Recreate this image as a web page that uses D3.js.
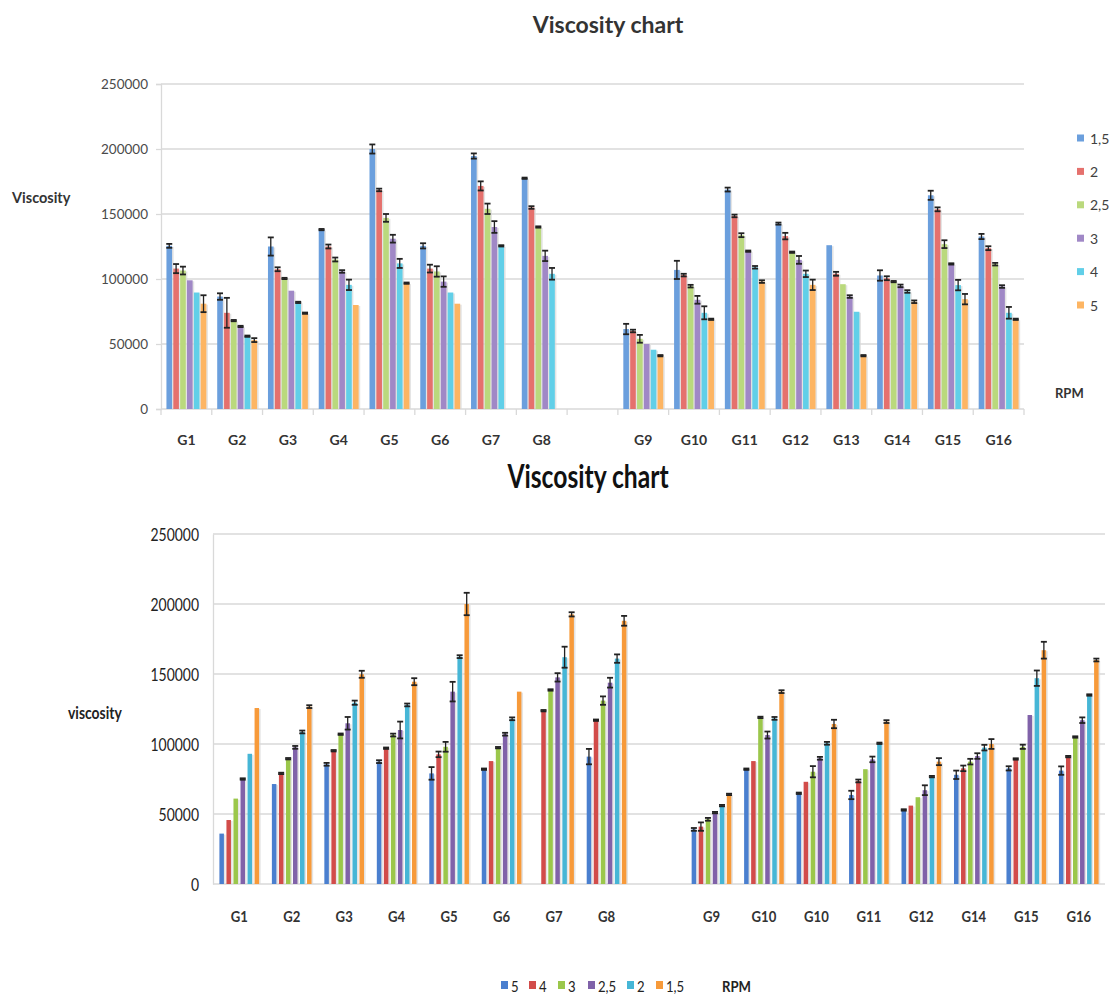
<!DOCTYPE html>
<html>
<head>
<meta charset="utf-8">
<script src="https://cdn.jsdelivr.net/npm/d3@7"></script>
<style>
  html, body { margin: 0; padding: 0; background: #fff; }
  svg { display: block; font-family: Lato, "Open Sans", sans-serif; }
</style>
</head>
<body>
<svg id="chart" width="1113" height="997"></svg>
<script>
// ---------- Upper chart: viscosity per sample, series by RPM (1,5 → 5) ----------
const topCategories = ["G1","G2","G3","G4","G5","G6","G7","G8","","G9","G10","G11","G12","G13","G14","G15","G16"];
const topSeriesNames = ["1,5","2","2,5","3","4","5"];
const top15 = [125500, 86500, 125000, 138000, 200000, 125500, 194600, 177500, null, 61500, 107000, 168800, 142600, 126000, 102700, 164400, 132700];
const top2  = [108000, 74000, 107500, 125000, 168500, 108000, 171600, 155000, null, 60000, 103000, 148500, 133000, 104000, 100600, 153600, 123700];
const top25 = [106500, 68000, 100400, 115000, 147000, 105800, 154000, 140000, null, 54000, 94500, 133700, 120600, 96000, 98000, 126800, 111400];
const top3  = [99000, 63500, 91000, 105800, 131000, 98000, 140000, 117800, null, 50000, 84000, 121400, 114700, 86500, 94700, 111600, 94200];
const top4  = [89600, 56000, 82000, 95500, 112000, 89600, 125500, 104000, null, 45600, 74000, 109000, 104000, 74800, 90400, 95300, 74000];
const top5  = [81000, 53000, 73700, 80000, 96800, 81000, null, null, null, 41000, 69000, 98000, 95500, 41000, 82500, 84500, 69000];
// standard deviations (half-length of each error bar)
const topErr15 = [1500, 2500, 7000, 500, 3500, 2000, 2000, 500, null, 4000, 7000, 1500, 800, 0, 4000, 3500, 2000];
const topErr2  = [3500, 11500, 1500, 1500, 1000, 3000, 3500, 1000, null, 1000, 1000, 1000, 2500, 1500, 1500, 1500, 1500];
const topErr25 = [3000, 500, 500, 1500, 3000, 4000, 4000, 500, null, 3000, 1000, 1500, 500, 0, 500, 3000, 1000];
const topErr3  = [0, 500, 0, 1000, 3000, 4000, 4500, 4000, null, 0, 3000, 500, 3000, 1000, 1000, 500, 1000];
const topErr4  = [0, 500, 500, 4000, 3500, 0, 500, 4500, null, 0, 5000, 1000, 2500, 0, 1000, 4000, 4500];
const topErr5  = [6500, 1500, 500, 0, 500, 0, null, null, null, 500, 500, 1000, 4000, 500, 1000, 4000, 500];
const topTicks = [0, 50000, 100000, 150000, 200000, 250000];

// ---------- Lower chart: same samples, series by RPM (5 → 1,5) ----------
const botCategories = ["G1","G2","G3","G4","G5","G6","G7","G8","","G9","G10","G10","G11","G12","G14","G15","G16"];
const botSeriesNames = ["5","4","3","2,5","2","1,5"];
const bot5  = [36000, 71400, 85500, 87400, 79000, 82000, null, 91000, null, 39000, 82000, 64800, 63600, 52900, 78000, 82600, 81000];
const bot4  = [45700, 79000, 95200, 97000, 92600, 87800, 123800, 117000, null, 41000, 87800, 73000, 73600, 56000, 82600, 89300, 91000];
const bot3  = [61000, 89500, 107000, 106400, 98000, 97400, 138600, 131000, null, 46200, 119000, 80200, 82000, 62000, 87400, 98000, 105000];
const bot25 = [75000, 97600, 114800, 110000, 137400, 107000, 147600, 143800, null, 51000, 106400, 89800, 89000, 67000, 91400, 120700, 117000];
const bot2  = [93000, 108600, 129500, 127900, 162400, 118000, 162000, 161000, null, 56000, 118300, 100500, 100500, 76700, 97400, 147000, 135000];
const bot15 = [125700, 126700, 149800, 144500, 200000, 137400, 192600, 188000, null, 64000, 137400, 114300, 116000, 87400, 100000, 167000, 160000];
const botErr5  = [0, 0, 1000, 1000, 4500, 500, null, 5500, null, 1000, 500, 500, 3000, 500, 3000, 1500, 3000];
const botErr4  = [0, 500, 500, 500, 2000, 0, 500, 500, null, 3000, 0, 0, 1000, 0, 2000, 500, 500];
const botErr3  = [0, 500, 500, 1000, 3500, 500, 500, 3000, null, 1000, 500, 4000, 0, 0, 2000, 1500, 500];
const botErr25 = [500, 1000, 4500, 6000, 7000, 1000, 3000, 3500, null, 500, 2500, 1000, 2000, 3500, 2000, 0, 2000];
const botErr2  = [0, 1000, 1500, 1000, 1000, 1000, 7500, 3000, null, 500, 1000, 1000, 500, 500, 2000, 5500, 500];
const botErr15 = [0, 1000, 2500, 2500, 8000, 0, 1500, 3500, null, 500, 1000, 3000, 1000, 2500, 3500, 6000, 1000];
const botTicks = [0, 50000, 100000, 150000, 200000, 250000];

const topColors = ["#6b9fdd", "#e5716d", "#bad97d", "#a088c6", "#61cfe8", "#fdb563"];
const botColors = ["#4a7fcf", "#d24c4a", "#9bc74b", "#8062a9", "#46b6d6", "#f79a3a"];

const svg = d3.select("#chart");

// text helper with optional horizontal squeeze (condensed look)
function label(g, x, y, txt, opts) {
  const o = Object.assign({ size: 13, weight: "normal", anchor: "start", fill: "#404040", sx: 1 }, opts || {});
  return g.append("text")
    .attr("transform", `translate(${x},${y}) scale(${o.sx},1)`)
    .attr("text-anchor", o.anchor)
    .attr("dominant-baseline", "central")
    .style("font-size", o.size + "px")
    .style("font-weight", o.weight)
    .attr("fill", o.fill)
    .text(txt);
}

function drawChart(cfg) {
  const g = svg.append("g");
  const x = d3.scaleBand().domain(d3.range(cfg.categories.length)).range([cfg.left, cfg.right]);
  const y = d3.scaleLinear().domain([0, 250000]).range([cfg.bottom, cfg.top]);

  // horizontal gridlines
  g.append("g").selectAll("line").data(cfg.ticks.filter(t => t > 0)).join("line")
    .attr("x1", cfg.left).attr("x2", cfg.gridRight)
    .attr("y1", d => y(d)).attr("y2", d => y(d))
    .attr("stroke", "#d9d9d9").attr("stroke-width", 1.3);

  // y axis
  const yAxis = d3.axisLeft(y).tickValues(cfg.ticks).tickSize(cfg.yTickSize).tickFormat(d3.format("d"));
  const ya = g.append("g").attr("transform", `translate(${cfg.left},0)`).call(yAxis);
  ya.select(".domain").attr("stroke", "#d9d9d9").attr("stroke-width", 1.3);
  ya.selectAll(".tick line").attr("stroke", "#d9d9d9").attr("stroke-width", 1.3);
  ya.selectAll(".tick text").remove();
  cfg.ticks.forEach(t => label(g, cfg.yLabelX, y(t), String(t),
    { size: cfg.yFont, anchor: "end", fill: cfg.yFill, weight: cfg.yWeight, sx: cfg.sx }));

  // baseline
  g.append("line").attr("x1", cfg.left).attr("x2", cfg.gridRight)
    .attr("y1", y(0)).attr("y2", y(0)).attr("stroke", "#d9d9d9").attr("stroke-width", 1.3);
  if (cfg.catTicks) {
    g.append("g").selectAll("line").data(d3.range(cfg.categories.length + 1)).join("line")
      .attr("x1", i => i < cfg.categories.length ? x(i) : cfg.right)
      .attr("x2", i => i < cfg.categories.length ? x(i) : cfg.right)
      .attr("y1", y(0)).attr("y2", y(0) + 6)
      .attr("stroke", "#d9d9d9").attr("stroke-width", 1.3);
  }

  // category labels
  cfg.categories.forEach((c, i) => {
    if (c) label(g, x(i) + x.bandwidth() / 2, cfg.catLabelY, c,
      { size: cfg.catFont, anchor: "middle", weight: "bold", fill: "#333", sx: cfg.sx });
  });

  // bars
  const step = x.bandwidth() * cfg.stepFrac;
  const bw = step * cfg.barFrac;
  const groupW = step * (cfg.series.length - 1) + bw;
  cfg.series.forEach((vals, s) => {
    const errs = cfg.errors[s];
    const items = vals.map((v, i) => ({ i, v, e: errs[i] })).filter(d => d.v != null);
    const bx = d => x(d.i) + (x.bandwidth() - groupW) / 2 + s * step;
    const sg = g.append("g");
    sg.selectAll("rect.shadow").data(items).join("rect").attr("class", "shadow")
      .attr("x", d => bx(d) + 1.6).attr("y", d => y(d.v) + 1)
      .attr("width", bw).attr("height", d => y(0) - y(d.v) - 1)
      .attr("fill", "#d8d8d8").attr("opacity", 0.7);
    sg.selectAll("rect.bar").data(items).join("rect").attr("class", "bar")
      .attr("x", d => bx(d)).attr("y", d => y(d.v))
      .attr("width", bw).attr("height", d => y(0) - y(d.v))
      .attr("fill", cfg.colors[s]);
    // error bars
    const eb = items.filter(d => d.e);
    const cx = d => bx(d) + bw / 2;
    const cap = cfg.capW / 2;
    sg.selectAll("line.ev").data(eb).join("line").attr("class", "ev")
      .attr("x1", cx).attr("x2", cx)
      .attr("y1", d => y(d.v + d.e)).attr("y2", d => y(d.v - d.e))
      .attr("stroke", "#222").attr("stroke-width", 1.3);
    sg.selectAll("line.et").data(eb).join("line").attr("class", "et")
      .attr("x1", d => cx(d) - cap).attr("x2", d => cx(d) + cap)
      .attr("y1", d => y(d.v + d.e)).attr("y2", d => y(d.v + d.e))
      .attr("stroke", "#222").attr("stroke-width", 1.8);
    sg.selectAll("line.eb").data(eb).join("line").attr("class", "eb")
      .attr("x1", d => cx(d) - cap).attr("x2", d => cx(d) + cap)
      .attr("y1", d => y(d.v - d.e)).attr("y2", d => y(d.v - d.e))
      .attr("stroke", "#222").attr("stroke-width", 1.8);
  });
  return g;
}

// ---------- upper chart ----------
const gTop = drawChart({
  categories: topCategories,
  series: [top15, top2, top25, top3, top4, top5],
  errors: [topErr15, topErr2, topErr25, topErr3, topErr4, topErr5],
  colors: topColors, ticks: topTicks,
  left: 161, right: 1024, gridRight: 1024, top: 84, bottom: 409,
  yTickSize: 5, yLabelX: 148, yFont: 13.5, yFill: "#4a4a4a", yWeight: "normal",
  catTicks: true, catLabelY: 439, catFont: 14,
  stepFrac: 0.135, barFrac: 0.82, capW: 6, sx: 1
});
label(gTop, 608, 24, "Viscosity chart", { size: 23, weight: "bold", anchor: "middle", fill: "#333" });
label(gTop, 12, 197, "Viscosity", { size: 14.5, weight: "bold", fill: "#333" });
label(gTop, 1055, 393, "RPM", { size: 13, weight: "bold", fill: "#333" });
topSeriesNames.forEach((n, i) => {
  const yy = 138 + i * 33.4;
  gTop.append("rect").attr("x", 1077).attr("y", yy - 3.5).attr("width", 7).attr("height", 7).attr("fill", topColors[i]);
  label(gTop, 1090, yy, n, { size: 14, fill: "#404040" });
});

// ---------- lower chart ----------
const gBot = drawChart({
  categories: botCategories,
  series: [bot5, bot4, bot3, bot25, bot2, bot15],
  errors: [botErr5, botErr4, botErr3, botErr25, botErr2, botErr15],
  colors: botColors, ticks: botTicks,
  left: 213, right: 1105, gridRight: 1105, top: 534, bottom: 884,
  yTickSize: 0, yLabelX: 199, yFont: 17, yFill: "#222", yWeight: "normal",
  catTicks: false, catLabelY: 916, catFont: 16,
  stepFrac: 0.134, barFrac: 0.64, capW: 6, sx: 0.82
});
label(gBot, 588, 476, "Viscosity chart", { size: 32, weight: "bold", anchor: "middle", fill: "#111", sx: 0.77 });
label(gBot, 68, 712, "viscosity", { size: 17, weight: "bold", fill: "#222", sx: 0.82 });
label(gBot, 722, 986, "RPM", { size: 16, weight: "bold", fill: "#222", sx: 0.82 });
const legX = [501, 529, 558, 588, 627, 656];
botSeriesNames.forEach((n, i) => {
  gBot.append("rect").attr("x", legX[i]).attr("y", 981).attr("width", 7).attr("height", 8).attr("fill", botColors[i]);
  label(gBot, legX[i] + 10, 986, n, { size: 16, fill: "#222", sx: 0.82 });
});
</script>
</body>
</html>
